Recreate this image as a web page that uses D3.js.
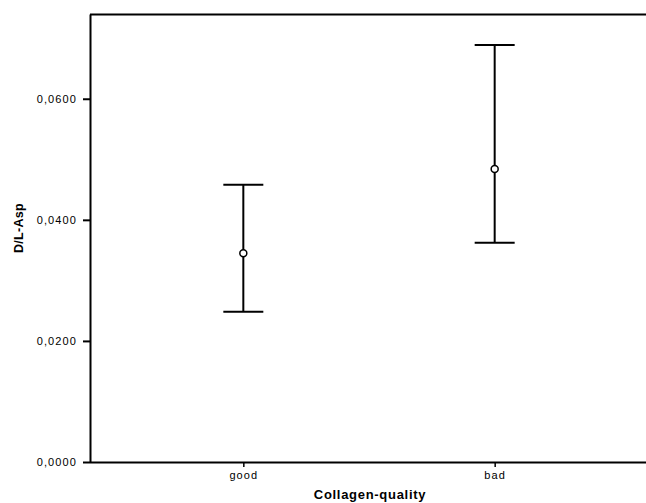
<!DOCTYPE html>
<html><head><meta charset="utf-8">
<script src="https://cdn.jsdelivr.net/npm/d3@7"></script>
<style>body{margin:0;background:#fff}svg{display:block}text{font-family:"Liberation Sans",Arial,sans-serif;fill:#000}</style>
</head><body>
<svg id="c" width="646" height="503"></svg>
<script>
const categories = ["good", "bad"];
const means = [0.0345, 0.0484];
const lower = [0.0248, 0.0362];
const upper = [0.0458, 0.0689];
const yTicks = [0, 0.02, 0.04, 0.06];

const svg = d3.select("#c");
const L = 90, R = 648, T = 14, B = 462;
const x = d3.scalePoint().domain(categories).range([L, R]).padding(0.61);
const y = d3.scaleLinear().domain([0, 0.074]).range([B, T]);
const fmt = d => d3.format(".4f")(d).replace(".", ",");

// frame top
svg.append("line").attr("x1", L).attr("x2", R).attr("y1", T + 0.5).attr("y2", T + 0.5)
  .attr("stroke", "#000").attr("stroke-width", 2);

const ya = svg.append("g").attr("transform", `translate(${L},0)`)
  .call(d3.axisLeft(y).tickValues(yTicks).tickFormat(fmt).tickSize(7).tickSizeOuter(0));
ya.select(".domain").attr("stroke-width", 2);
ya.selectAll(".tick line").attr("stroke-width", 2);
ya.selectAll(".tick text").attr("font-size", 11).attr("letter-spacing", 1.1)
  .attr("font-family", "Liberation Sans, Arial, sans-serif").attr("x", -13);

const xa = svg.append("g").attr("transform", `translate(0,${B})`)
  .call(d3.axisBottom(x).tickSize(5).tickSizeOuter(0));
xa.select(".domain").attr("d", `M${L},0.5H${R}`).attr("stroke-width", 2);
xa.selectAll(".tick line").attr("stroke-width", 1.5);
xa.selectAll(".tick text").attr("font-size", 11).attr("letter-spacing", 1.1)
  .attr("font-family", "Liberation Sans, Arial, sans-serif").attr("y", 9);

svg.append("text").attr("transform", `translate(23,228) rotate(-90)`)
  .attr("text-anchor", "middle").attr("font-size", 12.5).attr("letter-spacing", 0.3)
  .attr("font-weight", "bold").text("D/L-Asp");
svg.append("text").attr("x", 370).attr("y", 499)
  .attr("text-anchor", "middle").attr("font-size", 13).attr("letter-spacing", 0.7)
  .attr("font-weight", "bold").text("Collagen-quality");

const g = svg.append("g");
categories.forEach((c, i) => {
  const cx = x(c);
  g.append("line").attr("x1", cx).attr("x2", cx).attr("y1", y(upper[i])).attr("y2", y(lower[i]))
    .attr("stroke", "#000").attr("stroke-width", 2);
  [upper[i], lower[i]].forEach(v => {
    g.append("line").attr("x1", cx - 20).attr("x2", cx + 20).attr("y1", y(v)).attr("y2", y(v))
      .attr("stroke", "#000").attr("stroke-width", 2);
  });
  g.append("circle").attr("cx", cx).attr("cy", y(means[i])).attr("r", 3.5)
    .attr("fill", "#fff").attr("stroke", "#000").attr("stroke-width", 1.5);
});
</script>
</body></html>
